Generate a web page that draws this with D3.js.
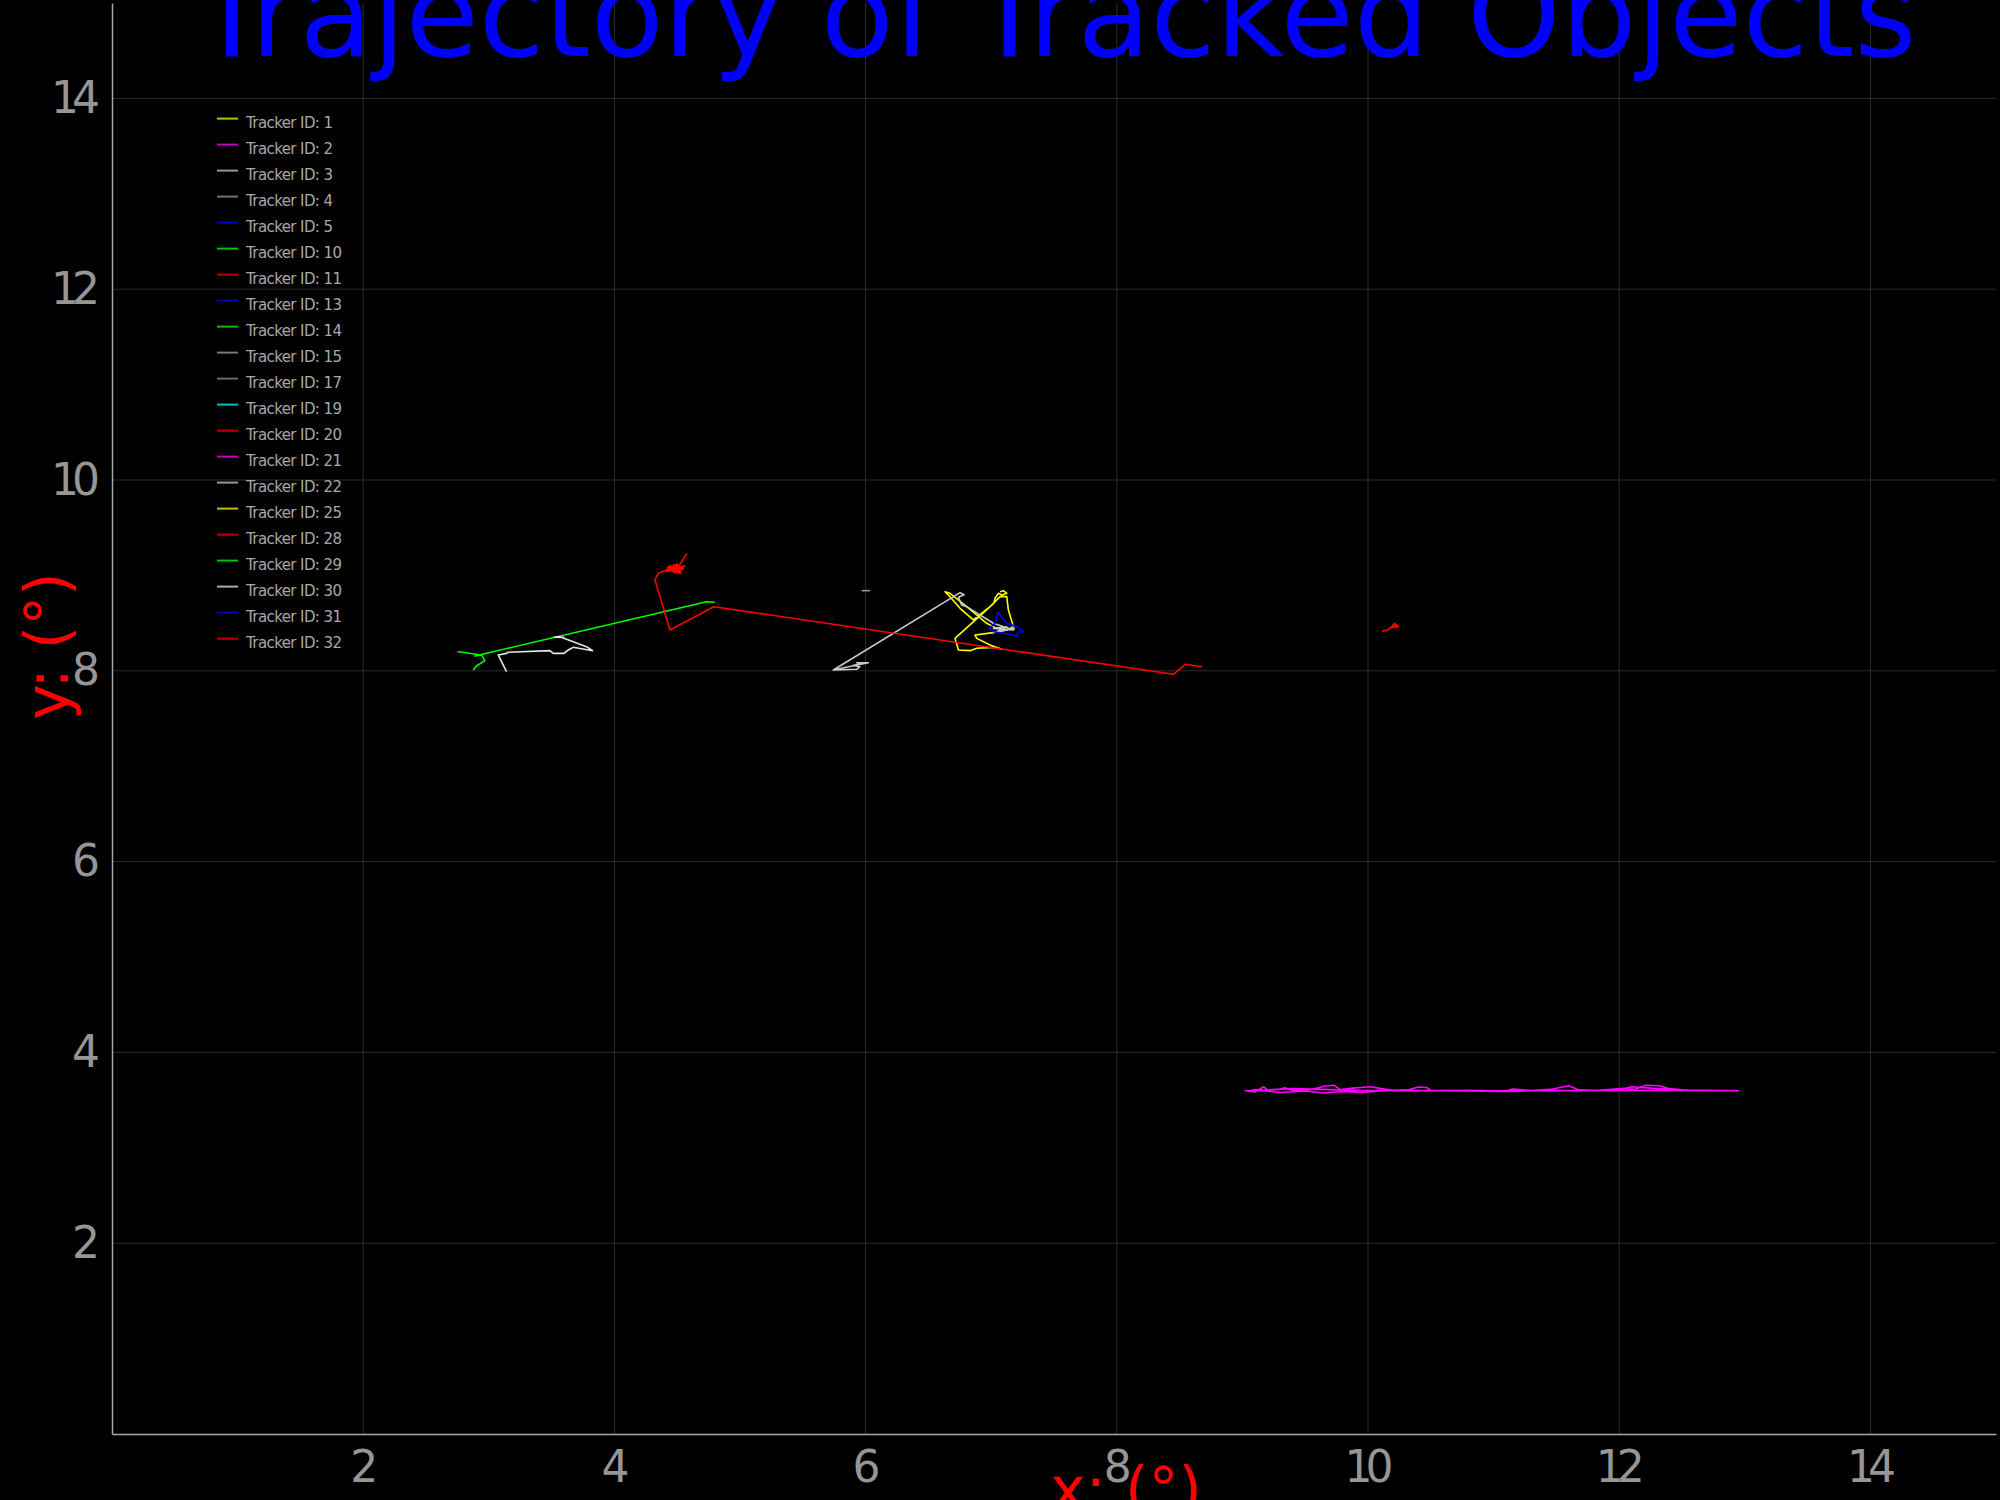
<!DOCTYPE html>
<html>
<head>
<meta charset="utf-8">
<script src="https://cdn.jsdelivr.net/npm/d3@7"></script>
<style>
  html, body { margin: 0; padding: 0; background: #000; }
  svg { display: block; }
</style>
</head>
<body>
<div id="chart"></div>
<script>
// legend entries, in the order shown
const trackerIds = [1, 2, 3, 4, 5, 10, 11, 13, 14, 15, 17, 19, 20, 21, 22, 25, 28, 29, 30, 31, 32];
const trackerColors = ['#ffff00', '#ff00ff', '#c8c8c8', '#969696', '#0000ff', '#00ff00', '#ff0000',
  '#0000ff', '#00ff00', '#a0a0a0', '#8c8c8c', '#00ffff', '#ff0000', '#ff00ff', '#c8c8c8',
  '#ffff00', '#ff0000', '#00ff00', '#e6e6e6', '#0000ff', '#ff0000'];

const xTicks = [2, 4, 6, 8, 10, 12, 14];
const yTicks = [2, 4, 6, 8, 10, 12, 14];

// trajectories, [x, y]
const track1 = [[7.071, 8.829], [7.097, 8.840], [7.124, 8.812], [7.084, 8.795], [7.057, 8.812], [7.031, 8.760],
  [7.020, 8.707], [6.712, 8.340], [6.739, 8.218], [6.832, 8.211], [6.885, 8.236], [7.017, 8.246], [7.084, 8.225],
  [6.991, 8.270], [6.885, 8.340], [6.871, 8.375], [7.017, 8.400], [7.124, 8.428], [7.177, 8.463], [7.137, 8.637],
  [7.124, 8.777], [7.071, 8.777], [6.991, 8.672], [6.858, 8.533], [6.752, 8.655], [6.672, 8.777], [6.632, 8.829],
  [6.672, 8.812], [6.805, 8.672], [6.964, 8.498], [7.044, 8.445]];
const track2 = [[9.02, 3.600], [9.10, 3.585], [9.17, 3.640], [9.20, 3.605], [9.30, 3.615], [9.34, 3.630], [9.40, 3.600],
  [9.55, 3.612], [9.66, 3.648], [9.73, 3.655], [9.78, 3.610], [9.90, 3.628], [10.02, 3.640], [10.13, 3.615],
  [10.20, 3.602], [10.33, 3.610], [10.40, 3.638], [10.47, 3.632], [10.50, 3.600], [10.80, 3.603], [11.10, 3.595],
  [11.15, 3.615], [11.30, 3.600], [11.45, 3.612], [11.60, 3.650], [11.67, 3.610], [11.80, 3.600], [12.04, 3.625],
  [12.12, 3.612], [12.21, 3.655], [12.32, 3.650], [12.40, 3.620], [12.52, 3.605], [12.95, 3.598], [12.60, 3.600],
  [12.30, 3.620], [12.10, 3.640], [12.00, 3.605], [11.40, 3.600], [11.10, 3.590], [10.60, 3.598], [10.13, 3.600],
  [9.95, 3.580], [9.80, 3.590], [9.65, 3.575], [9.50, 3.595], [9.30, 3.580], [9.10, 3.610], [9.05, 3.595],
  [9.40, 3.620], [9.90, 3.602], [10.50, 3.600], [11.20, 3.598], [12.10, 3.602], [12.90, 3.600]];
const track3 = [[5.743, 8.008], [5.929, 8.016], [5.955, 8.043], [5.902, 8.057], [5.969, 8.071], [5.929, 8.085],
  [6.022, 8.085], [5.929, 8.060], [5.743, 8.008], [6.752, 8.819], [6.784, 8.798], [6.739, 8.770], [6.765, 8.690],
  [6.805, 8.672], [7.017, 8.498], [7.177, 8.428], [7.017, 8.445], [7.124, 8.462], [7.044, 8.410], [7.190, 8.445]];
const track4 = [[5.969, 8.840], [6.035, 8.840]];
const track5 = [[7.057, 8.620], [7.076, 8.567], [7.124, 8.498], [7.203, 8.463], [7.256, 8.410], [7.217, 8.407],
  [7.203, 8.365], [7.137, 8.386], [7.017, 8.410], [6.985, 8.445], [7.031, 8.498], [7.044, 8.567], [7.057, 8.620]];
const track10 = [[4.800, 8.718], [4.734, 8.724], [2.889, 8.155], [2.942, 8.166], [2.756, 8.200], [2.942, 8.166],
  [2.969, 8.106], [2.902, 8.050], [2.876, 8.008]];
const track11 = [[10.111, 8.417], [10.151, 8.424], [10.190, 8.462], [10.211, 8.497], [10.243, 8.462],
  [10.190, 8.455], [10.220, 8.470], [10.243, 8.462]];
const track30 = [[3.141, 7.991], [3.075, 8.166], [3.141, 8.183], [3.154, 8.194], [3.486, 8.211], [3.513, 8.183],
  [3.598, 8.183], [3.632, 8.218], [3.672, 8.246], [3.826, 8.211], [3.778, 8.253], [3.619, 8.330], [3.566, 8.358],
  [3.520, 8.352], [3.600, 8.350]];
const track32 = [[4.495, 9.064], [4.43, 9.09], [4.52, 9.03], [4.47, 9.11], [4.55, 9.07], [4.41, 9.04], [4.50, 9.12],
  [4.53, 9.02], [4.45, 9.06], [4.56, 9.10], [4.48, 9.03], [4.42, 9.08], [4.51, 9.09], [4.575, 9.224], [4.50, 9.07],
  [4.46, 9.05], [4.54, 9.06], [4.44, 9.10], [4.49, 9.04], [4.52, 9.11], [4.40, 9.05], [4.349, 9.022],
  [4.323, 8.952], [4.442, 8.428], [4.792, 8.672], [8.451, 7.963], [8.545, 8.068], [8.677, 8.043]];

const tracks = { 1: track1, 2: track2, 3: track3, 4: track4, 5: track5, 10: track10, 11: track11, 30: track30, 32: track32 };

var width = 2000;
var height = 1500;
var plotLeft = 112, plotRight = 1996, plotTop = 3, plotBottom = 1434;

var svg = d3.select('#chart').append('svg')
    .attr('width', width)
    .attr('height', height)
    .style('background', '#000');

var x = d3.scaleLinear().domain([0, 15]).range([plotLeft, plotRight]);
var y = d3.scaleLinear().domain([0, 15]).range([plotBottom, plotTop]);

// grid
svg.append('g')
    .selectAll('line')
    .data(xTicks)
    .enter().append('line')
    .attr('x1', d => x(d)).attr('x2', d => x(d))
    .attr('y1', plotTop).attr('y2', plotBottom)
    .attr('stroke', '#2c2c2c').attr('stroke-width', 1);
svg.append('g')
    .selectAll('line')
    .data(yTicks)
    .enter().append('line')
    .attr('x1', plotLeft).attr('x2', plotRight)
    .attr('y1', d => y(d)).attr('y2', d => y(d))
    .attr('stroke', '#2c2c2c').attr('stroke-width', 1);

// axes
var xAxis = svg.append('g')
    .attr('transform', `translate(0,${plotBottom})`)
    .call(d3.axisBottom(x).tickValues(xTicks).tickSize(0).tickSizeOuter(0).tickPadding(17));
var yAxis = svg.append('g')
    .attr('transform', `translate(${plotLeft},0)`)
    .call(d3.axisLeft(y).tickValues(yTicks).tickSize(0).tickSizeOuter(0).tickPadding(19));

[xAxis, yAxis].forEach(function (a) {
    a.select('.domain').attr('stroke', '#a8a8a8').attr('stroke-width', 1.5);
    a.selectAll('text')
        .attr('fill', '#969696')
        .style('font-family', 'DejaVu Sans')
        .style('font-size', '44px')
        .style('letter-spacing', '-7px');
});
xAxis.selectAll('text').attr('dx', -3);

// trajectories
var line = d3.line().x(d => x(d[0])).y(d => y(d[1]));
trackerIds.forEach(function (id, i) {
    if (!tracks[id]) return;
    svg.append('path')
        .datum(tracks[id])
        .attr('d', line)
        .attr('fill', 'none')
        .attr('stroke', trackerColors[i])
        .attr('stroke-width', 1.6)
        .attr('stroke-linejoin', 'round');
});

// legend
var legend = svg.append('g');
var rows = legend.selectAll('g')
    .data(trackerIds)
    .enter().append('g')
    .attr('transform', (d, i) => `translate(217,${118.6 + i * 26})`);
rows.append('line')
    .attr('x1', 0).attr('x2', 21)
    .attr('stroke', (d, i) => trackerColors[i])
    .attr('stroke-width', 2)
    .attr('opacity', 0.75);
rows.append('text')
    .attr('x', 29).attr('y', 9.4)
    .attr('fill', '#a8a8a8')
    .style('font-family', 'DejaVu Sans')
    .style('font-size', '15px')
    .style('letter-spacing', '-0.6px')
    .text(d => 'Tracker ID: ' + d);

// title and axis labels
svg.append('text')
    .attr('x', 1056).attr('y', 56)
    .attr('text-anchor', 'middle')
    .attr('fill', '#0000ff')
    .style('font-family', 'DejaVu Sans')
    .style('font-size', '119px')
    .text('Trajectory of Tracked Objects');

svg.append('text')
    .attr('x', 1126).attr('y', 1510)
    .attr('text-anchor', 'middle')
    .attr('fill', '#ff0000')
    .style('font-family', 'DejaVu Sans')
    .style('font-size', '60px')
    .text('x: (°)');

svg.append('text')
    .attr('transform', 'translate(68,646) rotate(-90)')
    .attr('text-anchor', 'middle')
    .attr('fill', '#ff0000')
    .style('font-family', 'DejaVu Sans')
    .style('font-size', '60px')
    .text('y: (°)');
</script>
</body>
</html>
